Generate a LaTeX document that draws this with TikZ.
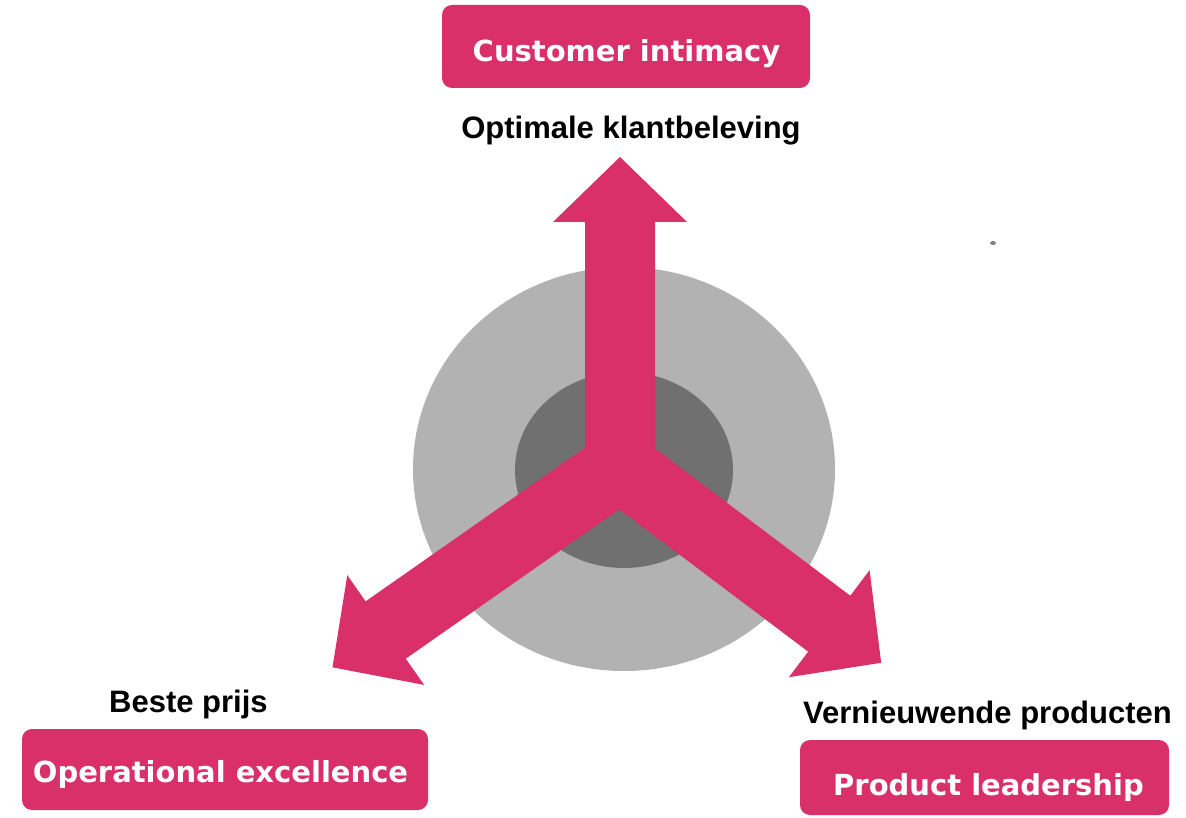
\documentclass[tikz,border=0pt]{standalone}
\usepackage{fontspec}
\setmainfont{Liberation Sans}
\newfontfamily\boxfont{DejaVu Sans}
\definecolor{brandpink}{RGB}{217,48,106}
\definecolor{outergray}{RGB}{178,178,178}
\definecolor{innergray}{RGB}{112,112,112}
\begin{document}
\begin{tikzpicture}[x=1pt,y=1pt,
  pinkbox/.style={fill=brandpink, rounded corners=10pt, inner sep=0pt},
  boxlabel/.style={text=white, font=\boxfont\bfseries\fontsize{29}{34}\selectfont, anchor=base, inner sep=0pt},
  caption/.style={text=black, font=\bfseries\fontsize{31}{36}\selectfont, anchor=base, inner sep=0pt}]
\useasboundingbox (0,0) rectangle (1186,817);

% concentric discs behind the arrows
\fill[outergray] (624,348) ellipse [x radius=211, y radius=202];
\fill[innergray] (624,347) ellipse [x radius=109, y radius=98];

% three arrows leaving a common centre
\coordinate (hub) at (620,351);
\foreach \ang/\len in {90/244, 215/286, -37/262} {
  \fill[brandpink, shift={(hub)}, rotate=\ang]
    (0,-35) -- (\len,-35) -- (\len,-67) -- (\len+65,0) -- (\len,67) -- (\len,35) -- (0,35) -- cycle;
}

% small speck
\fill[gray] (993,574) ellipse [x radius=3, y radius=2];

% strategy boxes
\node[pinkbox, minimum width=368, minimum height=83] (ci) at (626,770.5) {};
\node[boxlabel] (citext) at (626.5,755) {Customer intimacy};

\node[pinkbox, minimum width=406, minimum height=81] (oe) at (225,47.5) {};
\node[boxlabel] (oetext) at (220.5,35) {Operational excellence};

\node[pinkbox, minimum width=369, minimum height=75] (pl) at (984.5,39.5) {};
\node[boxlabel] (pltext) at (988.5,22) {Product leadership};

% captions
\node[caption] (cicap) at (631,678) {Optimale klantbeleving};
\node[caption] (oecap) at (188.5,105) {Beste prijs};
\node[caption] (plcap) at (987.5,94) {Vernieuwende producten};
\end{tikzpicture}
\end{document}
